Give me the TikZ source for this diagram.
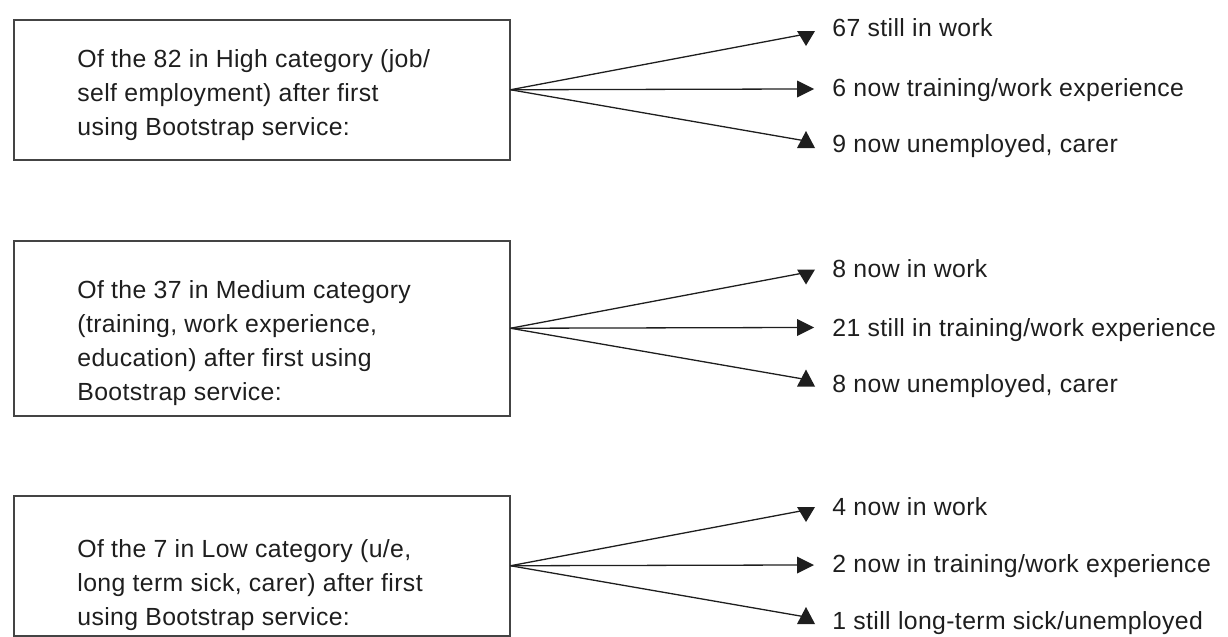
\documentclass[tikz,border=0pt]{standalone}
\usepackage{fontspec}
\setmainfont{Liberation Sans}[LetterSpace=1.5]
\definecolor{boxgray}{HTML}{444444}
\definecolor{inkc}{HTML}{1E1E1E}
\begin{document}
\begin{tikzpicture}[x=0.5pt,y=-0.5pt,
  box/.style={draw=boxgray, line width=0.75pt, minimum width=248pt, anchor=north west, inner sep=0pt},
  txt/.style={anchor=base west, align=left, inner sep=0pt, text=inkc, font=\fontsize{12.4pt}{17pt}\selectfont},
  lbl/.style={anchor=base west, inner sep=0pt, text=inkc, font=\fontsize{12.4pt}{17pt}\selectfont},
  conn/.style={draw=inkc, line width=0.65pt},
  downtip/.pic={\fill[inkc] (-9,-15) -- (9,-15) -- (0,0) -- cycle;},
  righttip/.pic={\fill[inkc] (-17,-8.5) -- (-17,8.5) -- (0,0) -- cycle;},
  uptip/.pic={\fill[inkc] (-9,17) -- (9,17) -- (0,0) -- cycle;}
]
\useasboundingbox (0,0) rectangle (1228,637);

% boxes
\node[box, minimum height=70pt] (b1) at (13,19) {};
\node[box, minimum height=87.5pt] (b2) at (13,240) {};
\node[box, minimum height=70pt] (b3) at (13,495) {};

% box texts (anchor = baseline of the last line)
\node[txt] (t1) at (77,135) {Of the 82 in High category (job/\\self employment) after first\\using Bootstrap service:};
\node[txt] (t2) at (77,400) {Of the 37 in Medium category\\(training, work experience,\\education) after first using\\Bootstrap service:};
\node[txt] (t3) at (77,625) {Of the 7 in Low category (u/e,\\long term sick, carer) after first\\using Bootstrap service:};

% labels group 1
\node[lbl] (l11) at (832,37) {67 still in work};
\node[lbl] (l12) at (832,96) {6 now training/work experience};
\node[lbl] (l13) at (832,152) {9 now unemployed, carer};
% labels group 2
\node[lbl] (l21) at (832,277) {8 now in work};
\node[lbl] (l22) at (832,336) {21 still in training/work experience};
\node[lbl] (l23) at (832,392) {8 now unemployed, carer};
% labels group 3
\node[lbl] (l31) at (832,515) {4 now in work};
\node[lbl] (l32) at (832,572) {2 now in training/work experience};
\node[lbl] (l33) at (832,629) {1 still long-term sick/unemployed};

% arrow end points
\coordinate (e11) at (806,34);
\coordinate (e12) at (800,89);
\coordinate (e13) at (806,141);
\coordinate (e21) at (806,272.5);
\coordinate (e22) at (800,327.5);
\coordinate (e23) at (806,379.5);
\coordinate (e31) at (806,510);
\coordinate (e32) at (800,565);
\coordinate (e33) at (806,617);

\foreach \g in {1,2,3}{
  \draw[conn] (b\g.east) -- (e\g1);
  \draw[conn] (b\g.east) -- (e\g2);
  \draw[conn] (b\g.east) -- (e\g3);
}

\pic at (806,46) {downtip};
\pic at (814,89) {righttip};
\pic at (806,131) {uptip};
\pic at (806,284.5) {downtip};
\pic at (814,327.5) {righttip};
\pic at (806,369.5) {uptip};
\pic at (806,522) {downtip};
\pic at (814,565) {righttip};
\pic at (806,607) {uptip};
\end{tikzpicture}
\end{document}
